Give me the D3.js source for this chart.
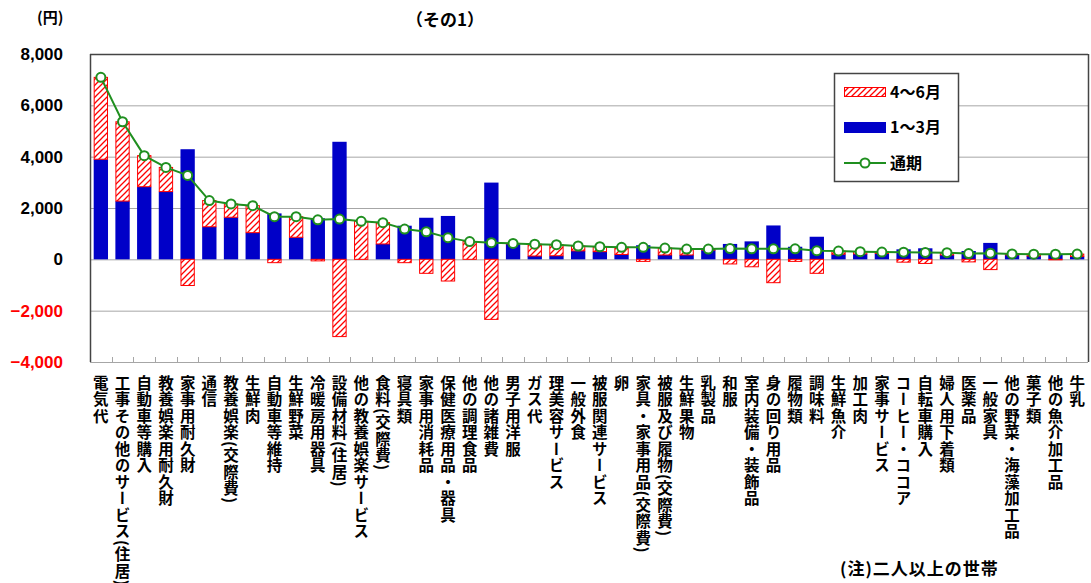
<!DOCTYPE html>
<html><head><meta charset="utf-8">
<script src="https://cdn.jsdelivr.net/npm/d3@7"></script>
<style>
html,body{margin:0;padding:0;background:#fff;}
svg{display:block;}
.jp{font-family:"Noto Sans CJK JP","Noto Sans",sans-serif;font-weight:700;}
</style></head>
<body>
<svg id="chart" width="1091" height="583"></svg>
<script>
const categories = ["電気代","工事その他のサービス(住居)","自動車等購入","教養娯楽用耐久財","家事用耐久財","通信","教養娯楽(交際費)","生鮮肉","自動車等維持","生鮮野菜","冷暖房用器具","設備材料(住居)","他の教養娯楽サービス","食料(交際費)","寝具類","家事用消耗品","保健医療用品・器具","他の調理食品","他の諸雑費","男子用洋服","ガス代","理美容サービス","一般外食","被服関連サービス","卵","家具・家事用品(交際費)","被服及び履物(交際費)","生鮮果物","乳製品","和服","室内装備・装飾品","身の回り用品","履物類","調味料","生鮮魚介","加工肉","家事サービス","コーヒー・ココア","自転車購入","婦人用下着類","医薬品","一般家具","他の野菜・海藻加工品","菓子類","他の魚介加工品","牛乳"];
const janMar = [3900,2270,2830,2640,4290,1270,1640,1040,1790,860,1600,4580,0,600,1310,1620,1690,0,2990,600,130,140,330,300,190,550,170,170,360,600,700,1320,490,880,200,210,230,390,430,170,325,640,170,130,210,110];
const aprJun = [3190,3090,1210,940,-1020,1020,520,1050,-130,800,-60,-3010,1480,830,-130,-545,-845,690,-2340,20,460,430,190,190,280,-80,270,230,40,-180,-290,-910,-80,-545,120,90,55,-110,-160,90,-100,-400,40,70,-10,95];
const yTicks = [-4000,-2000,0,2000,4000,6000,8000];
const legendLabels = ["4〜6月","1〜3月","通期"];

const total = janMar.map((v,i)=>v+aprJun[i]);
const svg = d3.select("#chart");
const L=90, R=1088, T=54, B=362;
const x = d3.scaleBand().domain(categories).range([L,R]).paddingInner(0.34).paddingOuter(0.17);
const y = d3.scaleLinear().domain([-4000,8000]).range([B,T]);
const BLUE="#0000c8", RED="#ff0000", GREEN="#1f8f1f";

const defs = svg.append("defs");
const pat = defs.append("pattern").attr("id","hatch").attr("patternUnits","userSpaceOnUse")
  .attr("width",6).attr("height",6);
pat.append("rect").attr("width",6).attr("height",6).attr("fill","#fff");
pat.append("path").attr("d","M-1,1 l2,-2 M0,6 l6,-6 M5,7 l2,-2").attr("stroke",RED).attr("stroke-width",1.3);

// gridlines
svg.append("g").selectAll("line").data(yTicks.filter(t=>t>-4000 && t<8000)).join("line")
  .attr("x1",L).attr("x2",R).attr("y1",d=>y(d)+0.5).attr("y2",d=>y(d)+0.5)
  .attr("stroke","#a6a6a6").attr("stroke-width",1);

// bottom axis with ticks
const xAxisG = svg.append("g");
xAxisG.append("line").attr("x1",L).attr("x2",R).attr("y1",B+0.5).attr("y2",B+0.5).attr("stroke","#a6a6a6");
const bounds = categories.slice(1).map(c=>x(c)-x.step()*x.paddingInner()/2);
xAxisG.selectAll("line.tk").data(bounds).join("line").attr("class","tk")
  .attr("x1",d=>Math.round(d)+0.5).attr("x2",d=>Math.round(d)+0.5).attr("y1",B-5).attr("y2",B)
  .attr("stroke","#a6a6a6");

// bars: blue
svg.append("g").selectAll("rect").data(categories).join("rect")
  .attr("x",d=>x(d)).attr("width",x.bandwidth())
  .attr("y",(d,i)=>y(Math.max(0,janMar[i]))).attr("height",(d,i)=>Math.abs(y(0)-y(janMar[i])))
  .attr("fill",BLUE);
// bars: red hatched
svg.append("g").selectAll("rect").data(categories).join("rect")
  .attr("x",d=>x(d)+0.5).attr("width",x.bandwidth()-1)
  .attr("y",(d,i)=>{const base=(janMar[i]>0&&aprJun[i]>0)?janMar[i]:0; return y(Math.max(base,base+aprJun[i]));})
  .attr("height",(d,i)=>Math.max(0.5,Math.abs(y(0)-y(aprJun[i]))))
  .attr("fill","url(#hatch)").attr("stroke",RED).attr("stroke-width",1);

// line
const line = d3.line().x((d,i)=>x(categories[i])+x.bandwidth()/2).y(d=>y(d));
svg.append("path").datum(total).attr("d",line).attr("fill","none").attr("stroke",GREEN).attr("stroke-width",2);
svg.append("g").selectAll("circle").data(total).join("circle")
  .attr("cx",(d,i)=>x(categories[i])+x.bandwidth()/2).attr("cy",d=>y(d)).attr("r",4.5)
  .attr("fill","#fff").attr("stroke",GREEN).attr("stroke-width",2);

// frame
svg.append("line").attr("x1",L).attr("x2",R).attr("y1",T+0.5).attr("y2",T+0.5).attr("stroke","#444").attr("stroke-width",1.5);
svg.append("line").attr("x1",L+0.5).attr("x2",L+0.5).attr("y1",T).attr("y2",B).attr("stroke","#444").attr("stroke-width",1.5);
svg.append("line").attr("x1",R+0.5).attr("x2",R+0.5).attr("y1",T).attr("y2",B).attr("stroke","#444").attr("stroke-width",1.5);

// y labels
svg.append("g").selectAll("text").data(yTicks).join("text")
  .attr("x",63).attr("y",d=>y(d)+6).attr("text-anchor","end")
  .style("font-family","'Liberation Sans',Arial,sans-serif").style("font-weight","700").style("font-size","17px")
  .attr("fill",d=>d<0?RED:"#000").text(d=>d3.format(",")(d));

// x labels vertical
svg.append("g").selectAll("text").data(categories).join("text").attr("class","jp")
  .attr("x",d=>x(d)+x.bandwidth()/2).attr("y",375)
  .style("writing-mode","vertical-rl").style("font-size","15.5px").style("letter-spacing","1px")
  .attr("fill","#000").text(d=>d);

// texts
svg.append("text").attr("class","jp").attr("x",37).attr("y",23).style("font-size","15px").text("(円)");
svg.append("text").attr("class","jp").attr("x",445).attr("y",26).attr("text-anchor","middle").style("font-size","17px").text("（その1）");
svg.append("text").attr("class","jp").attr("x",840).attr("y",575).style("font-size","17px").style("letter-spacing","1px").text("(注)二人以上の世帯");

// legend
const lg = svg.append("g");
lg.append("rect").attr("x",834.5).attr("y",73.5).attr("width",124).attr("height",108).attr("fill","#fff").attr("stroke","#444").attr("stroke-width",1.5);
lg.append("rect").attr("x",844.5).attr("y",87.5).attr("width",41).attr("height",9).attr("fill","url(#hatch)").attr("stroke",RED);
lg.append("rect").attr("x",844).attr("y",122).attr("width",42).attr("height",11).attr("fill",BLUE);
lg.append("line").attr("x1",844).attr("x2",886).attr("y1",163).attr("y2",163).attr("stroke",GREEN).attr("stroke-width",2);
lg.append("circle").attr("cx",865).attr("cy",163).attr("r",4.5).attr("fill","#fff").attr("stroke",GREEN).attr("stroke-width",2);
lg.selectAll("text.lt").data(legendLabels).join("text").attr("class","jp lt")
  .attr("x",890).attr("y",(d,i)=>[98,133,169][i]).style("font-size","16px").text(d=>d);
</script>
</body></html>
